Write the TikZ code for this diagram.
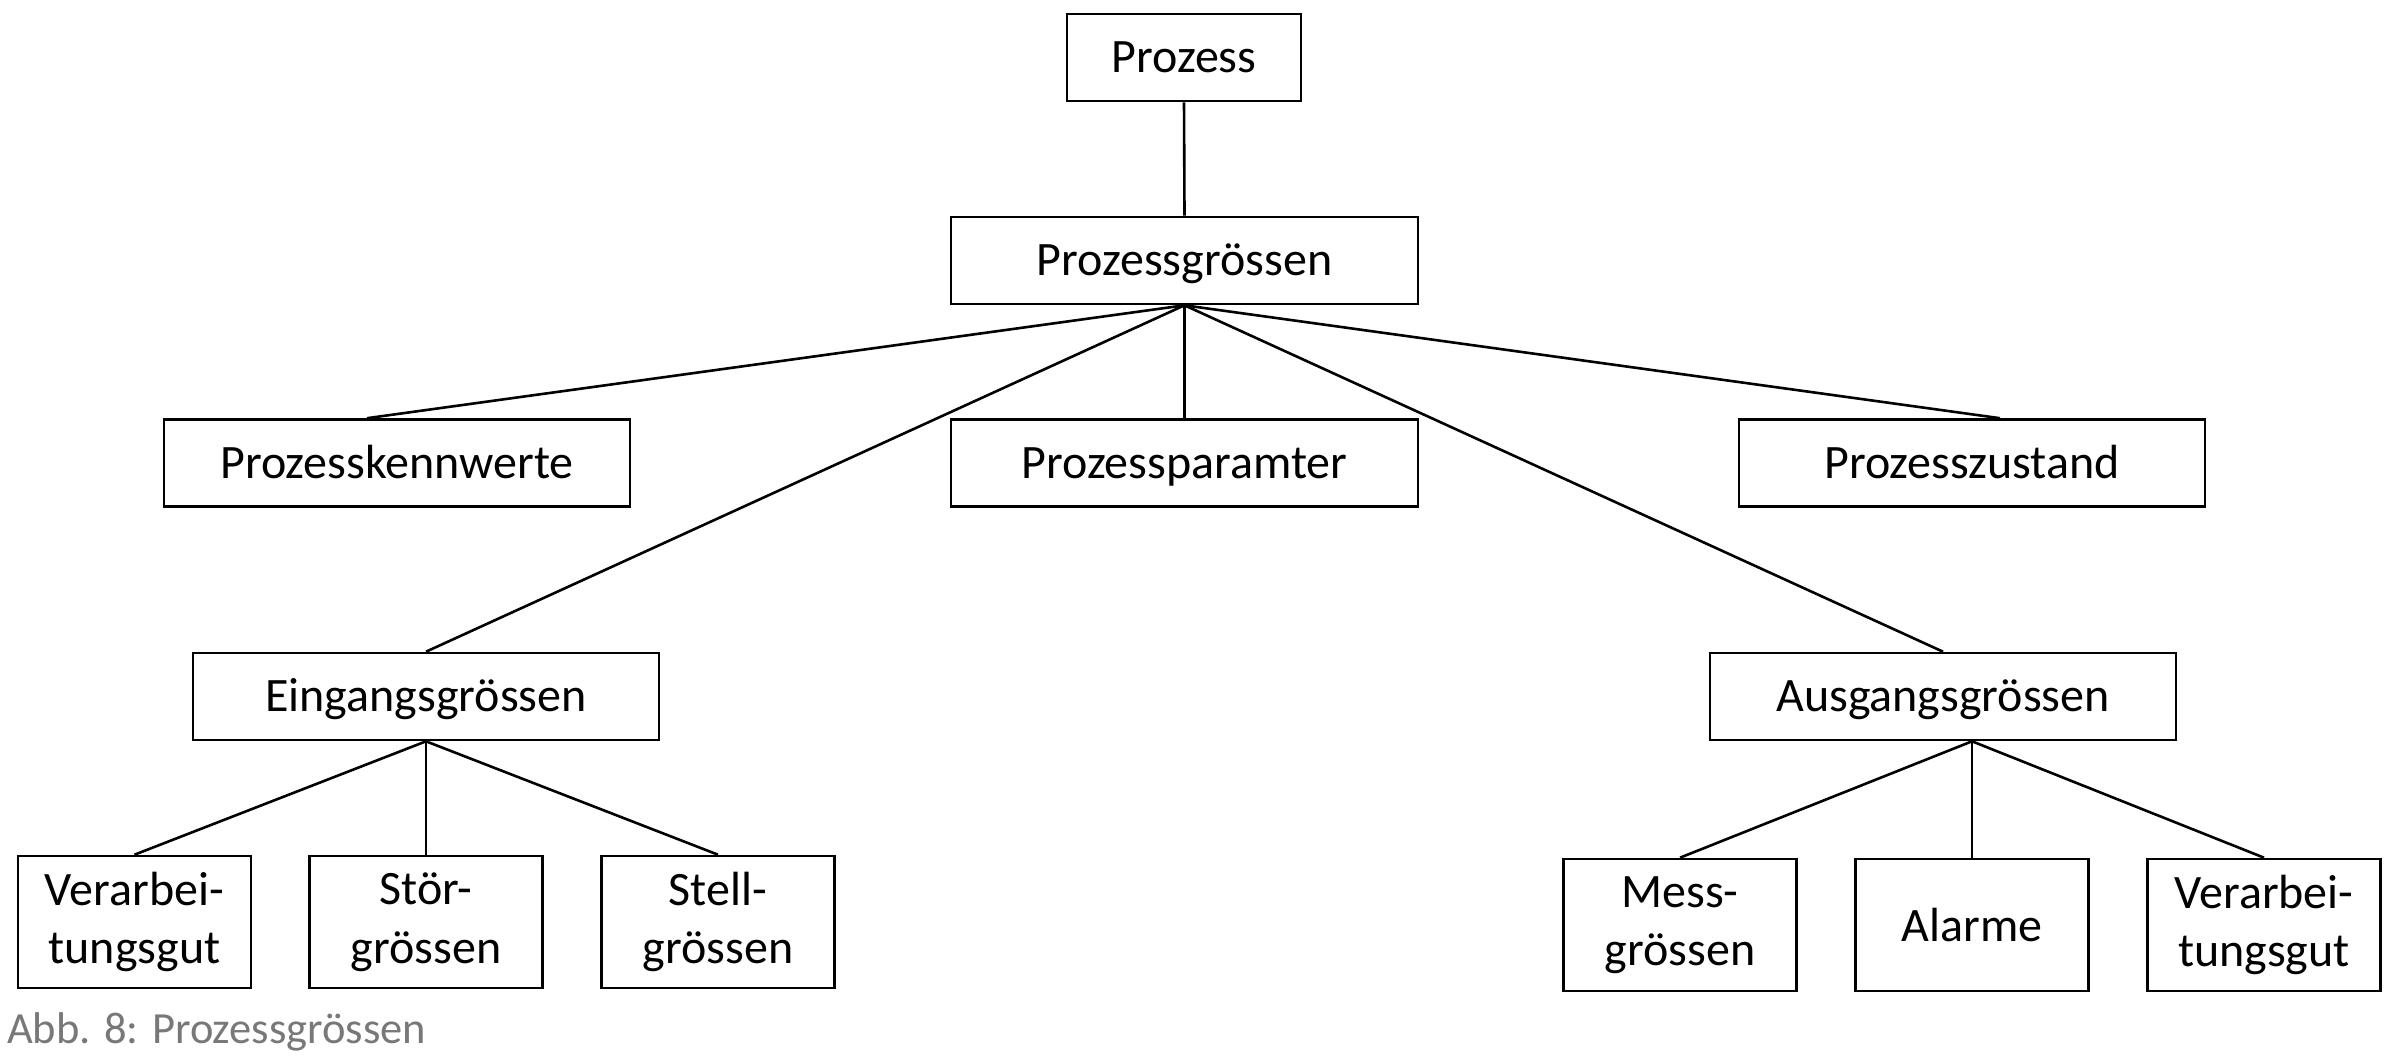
\documentclass[tikz,border=0pt]{standalone}
\usepackage{fontspec}
\setmainfont{Carlito}
\definecolor{capgray}{RGB}{120,120,120}
\begin{document}
\begin{tikzpicture}[x=1pt,y=-1pt,
  box/.style={draw, line width=2.6pt, inner sep=0pt, align=center, fill=white},
  upbox/.style={box, minimum width=#1, minimum height=87pt, text height=38pt, text depth=8pt, font=\fontsize{48}{58.5}\selectfont},
  lowbox/.style={box, minimum width=233pt, minimum height=132pt, font=\fontsize{48}{58.5}\selectfont},
  conn/.style={line width=2.6pt}]
\useasboundingbox (0,0) rectangle (2398,1058);
\fill[white] (0,0) rectangle (2398,1058);
% nodes
\node[upbox=234pt] (proz) at (1184,57.5) {Prozess};
\node[upbox=467pt] (pg) at (1184.5,260.5) {Prozessgrössen};
\node[upbox=466pt] (pk) at (397,463) {Prozesskennwerte};
\node[upbox=467pt] (pp) at (1184.5,463) {Prozessparamter};
\node[upbox=466pt] (pz) at (1972,463) {Prozesszustand};
\node[upbox=466pt] (ein) at (426,696.5) {Eingangsgrössen};
\node[upbox=466pt] (aus) at (1943,696.5) {Ausgangsgrössen};
\node[lowbox] (v1) at (134.5,922) {Verarbei-\\tungsgut};
\node[lowbox] (stoer) at (426,922) {Stör-\\grössen};
\node[lowbox] (stell) at (718,922) {Stell-\\grössen};
\node[lowbox] (mess) at (1680,925) {Mess-\\grössen};
\node[lowbox] (alarm) at (1972,925) {Alarme};
\node[lowbox] (v2) at (2264,925) {Verarbei-\\tungsgut};
\node[anchor=base west, inner sep=0pt, text=capgray, font=\fontsize{44.5}{53}\selectfont] (cap) at (7,1043) {Abb. 8: Prozessgrössen};
% connectors
\draw[conn] (proz.south) -- (pg.north);
\draw[conn] (pg.south) -- ([xshift=-30pt]pk.north);
\draw[conn] (pg.south) -- (pp.north);
\draw[conn] (pg.south) -- ([xshift=28pt]pz.north);
\draw[conn] (pg.south) -- (ein.north);
\draw[conn] (pg.south) -- (aus.north);
\draw[conn] (ein.south) -- (v1.north);
\draw[conn] (ein.south) -- (stoer.north);
\draw[conn] (ein.south) -- (stell.north);
\draw[conn] ([xshift=29pt]aus.south) -- (mess.north);
\draw[conn] ([xshift=29pt]aus.south) -- (alarm.north);
\draw[conn] ([xshift=29pt]aus.south) -- (v2.north);
\end{tikzpicture}
\end{document}
